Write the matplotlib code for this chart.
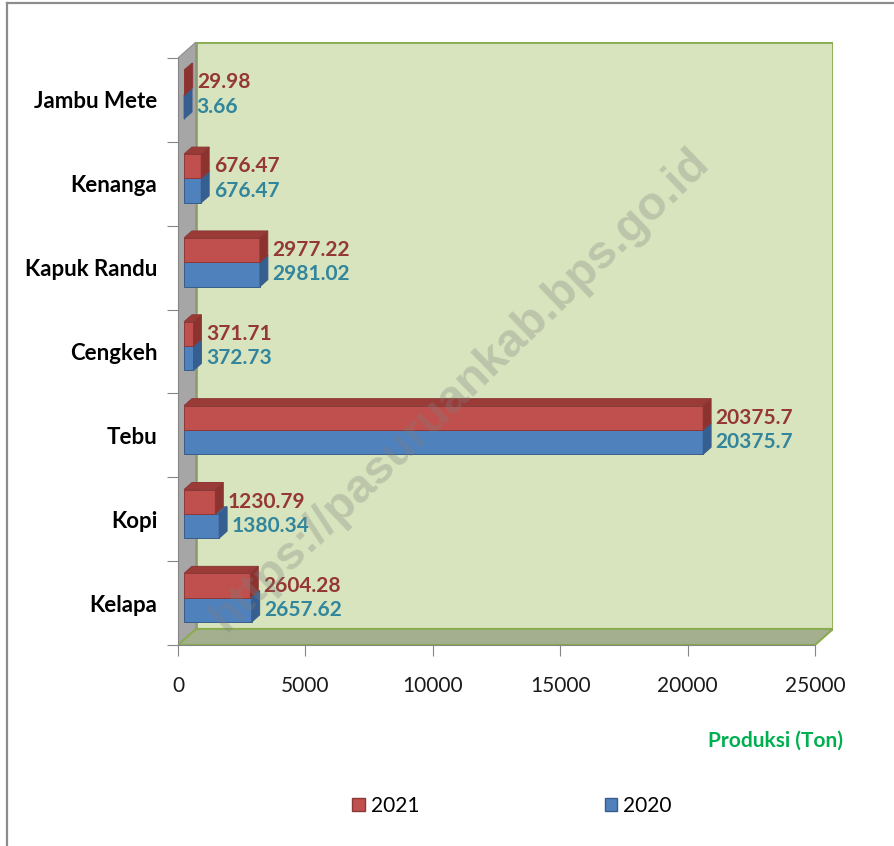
import numpy as np
import matplotlib
matplotlib.use('Agg')
import matplotlib.pyplot as plt
from matplotlib.patches import Polygon, Patch
from matplotlib.lines import Line2D

plt.rcParams['font.family'] = ['Lato', 'DejaVu Sans']

# data
kategori = ['Kelapa', 'Kopi', 'Tebu', 'Cengkeh', 'Kapuk Randu', 'Kenanga', 'Jambu Mete']
prod_2021 = [2604.28, 1230.79, 20375.7, 371.71, 2977.22, 676.47, 29.98]
prod_2020 = [2657.62, 1380.34, 20375.7, 372.73, 2981.02, 676.47, 3.66]
xticks = [0, 5000, 10000, 15000, 20000, 25000]

# 3D look (kedalaman dalam satuan data)
XMAX = 25000
DX = XMAX * 18 / 637      # geser kedalaman ke kanan
DY = 16 / 83.7            # geser kedalaman ke atas
F0 = 1 / 3                # posisi depan batang dalam kedalaman
T = 0.44                  # tebal batang
H = 0.29                  # tinggi batang

W, Hh = 894, 846
fig = plt.figure(figsize=(W / 100, Hh / 100), dpi=100)
ax = fig.add_axes([178 / W, 1 - 645 / Hh, (833 - 178) / W, (645 - 42) / Hh])
ax.set_xlim(0, XMAX + DX)
ax.set_ylim(-0.5, 6.5 + DY)
ax.patch.set_visible(False)

n = len(kategori)
top = n - 0.5
bot = -0.5

# dinding belakang, dinding kiri, lantai
ax.add_patch(Polygon([(DX, bot + DY), (XMAX + DX, bot + DY), (XMAX + DX, top + DY), (DX, top + DY)],
                     closed=True, facecolor='#d7e4bd', edgecolor='#8aab50', lw=2, zorder=0))
ax.add_patch(Polygon([(0, bot), (DX, bot + DY), (DX, top + DY), (0, top)],
                     closed=True, facecolor='#a6a6a6', edgecolor='#8c8c8c', lw=0.8, zorder=1))
ax.add_patch(Polygon([(0, bot), (XMAX, bot), (XMAX + DX, bot + DY), (DX, bot + DY)],
                     closed=True, facecolor='#a3af8e', edgecolor='#8aab50', lw=1.5, zorder=1))


def bar3d(vals, y0, front, topc, side, edge):
    y = np.arange(n) + y0
    ax.barh(y + H / 2 + F0 * DY, vals, left=F0 * DX, height=H,
            color=front, edgecolor=edge, linewidth=0.7, zorder=3)
    for yi, v in zip(y, vals):
        x0 = F0 * DX
        yb = yi + F0 * DY
        yt = yb + H
        ax.add_patch(Polygon([(x0, yt), (x0 + v, yt), (x0 + v + T * DX, yt + T * DY), (x0 + T * DX, yt + T * DY)],
                             closed=True, facecolor=topc, edgecolor=edge, lw=0.7, zorder=3))
        ax.add_patch(Polygon([(x0 + v, yb), (x0 + v + T * DX, yb + T * DY), (x0 + v + T * DX, yt + T * DY), (x0 + v, yt)],
                             closed=True, facecolor=side, edgecolor=edge, lw=0.7, zorder=3))


bar3d(prod_2020, -H, '#4f81bd', '#41699a', '#365f91', '#385d8a')
bar3d(prod_2021, 0, '#c0504d', '#9b3b38', '#8c3330', '#8c3836')

gap = XMAX * 4.5 / 637
for i in range(n):
    ax.text(F0 * DX + prod_2021[i] + T * DX + gap, i + H / 2 + F0 * DY, f'{prod_2021[i]:g}',
            color='#953735', fontsize=15, fontweight='bold', va='center', ha='left', zorder=5)
    ax.text(F0 * DX + prod_2020[i] + T * DX + gap, i - H / 2 + F0 * DY, f'{prod_2020[i]:g}',
            color='#31859c', fontsize=15, fontweight='bold', va='center', ha='left', zorder=5)

# sumbu
for s in ['top', 'right']:
    ax.spines[s].set_visible(False)
ax.spines['left'].set_bounds(bot, top)
ax.spines['bottom'].set_bounds(0, XMAX)
ax.spines['left'].set_color('#868686')
ax.spines['bottom'].set_color('#868686')
ax.set_xticks(xticks)
ax.set_xticklabels([str(t) for t in xticks])
ax.tick_params(axis='x', length=8, color='#868686', labelsize=15, pad=14, labelcolor='#1a1a1a')
ax.set_yticks(np.arange(bot, top + 0.1, 1))
ax.set_yticklabels([])
ax.tick_params(axis='y', which='major', length=8, color='#868686')
ax.set_yticks(np.arange(n), labels=kategori, minor=True)
ax.tick_params(axis='y', which='minor', length=0, pad=15, labelsize=16)
for lbl in ax.get_yticklabels(minor=True):
    lbl.set_fontweight('bold')

# watermark
ax.text((460 - 178) / 655, (645 - 390) / 603, 'https://pasuruankab.bps.go.id', transform=ax.transAxes,
        family=['Liberation Sans', 'DejaVu Sans'], fontsize=34, fontweight='bold',
        color='#7f7f7f', alpha=0.3,
        rotation=44, ha='center', va='center', rotation_mode='anchor', zorder=6)

fig.text(843 / W, 1 - 741 / Hh, 'Produksi (Ton)', color='#00b050', fontsize=15,
         fontweight='bold', ha='right', va='center')

handles = [Patch(facecolor='#c0504d', edgecolor='#8c3836', label='2021'),
           Patch(facecolor='#4f81bd', edgecolor='#385d8a', label='2020')]
fig.legend(handles=handles, loc='center', bbox_to_anchor=(512 / W, 1 - 806 / Hh), ncol=2,
           frameon=False, fontsize=15, handlelength=0.6, handleheight=0.6,
           handletextpad=0.3, columnspacing=8.9)

# bingkai luar
fig.add_artist(Line2D([6.5 / W, 6.5 / W], [0, 1 - 3 / Hh], color='#8c8c8c', lw=1.6))
fig.add_artist(Line2D([6.5 / W, 1], [1 - 3 / Hh, 1 - 3 / Hh], color='#8c8c8c', lw=1.6))

fig.savefig('out.png', dpi=100)
